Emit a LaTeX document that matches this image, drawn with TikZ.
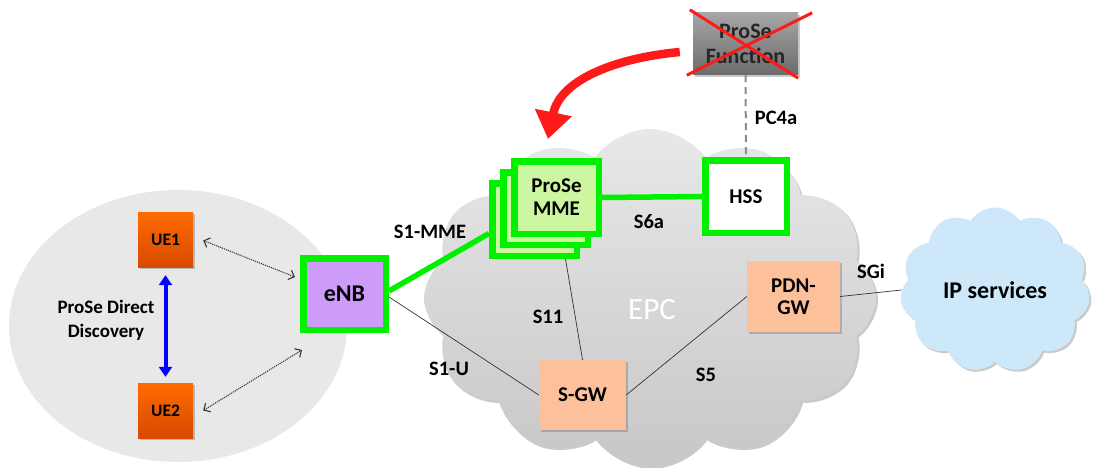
\documentclass[tikz,border=0pt]{standalone}
\usepackage{fontspec}
\setmainfont{Carlito}
\usetikzlibrary{shapes.symbols,arrows.meta,shadows,calc}
\definecolor{brightgreen}{HTML}{00F000}
\definecolor{uetop}{HTML}{FF6A00}
\definecolor{uebot}{HTML}{D84A00}
\definecolor{enbfill}{HTML}{CC9CF8}
\definecolor{mmefill}{HTML}{CCF7A0}
\definecolor{gwfill}{HTML}{FCC19A}
\definecolor{ipfill}{HTML}{CDE9F9}
\definecolor{xred}{HTML}{FF1A1A}
\begin{document}
\begin{tikzpicture}[x=1pt,y=-1pt,
  shad/.style={drop shadow={shadow xshift=2pt,shadow yshift=-2pt,opacity=0.35,fill=black!60}},
  uebox/.style={rectangle,top color=uetop,bottom color=uebot,minimum width=55pt,minimum height=55pt,
     font=\bfseries\fontsize{17.5}{19}\selectfont,inner sep=0pt,shad},
  greenbox/.style={rectangle,draw=brightgreen,line width=6.5pt,font=\bfseries\fontsize{21}{23}\selectfont,
     align=center,inner sep=0pt,shad},
  gwbox/.style={rectangle,fill=gwfill,font=\bfseries\fontsize{21}{22}\selectfont,align=center,inner sep=0pt,shad},
  lbl/.style={font=\bfseries\fontsize{20.5}{22}\selectfont},
  thinline/.style={draw=black!80,line width=0.7pt},
  greenline/.style={draw=brightgreen,line width=5.5pt},
  dotarrow/.style={draw=black!80,densely dotted,line width=1.1pt,{Straight Barb[length=5pt,width=10pt]}-{Straight Barb[length=5pt,width=10pt]}}
]
\useasboundingbox (0,0) rectangle (1094,468);

% background ellipse
\fill[black!9] (178,326) ellipse [x radius=169, y radius=136];

% EPC cloud
\node[cloud,cloud puffs=12,cloud puff arc=110,aspect=1.35,minimum width=452pt,minimum height=338pt,
      top color=black!9,bottom color=black!22,shad] (epc) at (650,298) {};
\node[text=white,font=\fontsize{31}{33}\selectfont] (epct) at (652,310) {EPC};

% IP services cloud
\node[cloud,cloud puffs=11,cloud puff arc=115,aspect=1.2,minimum width=190pt,minimum height=165pt,
      fill=ipfill,shad,font=\bfseries\fontsize{24}{26}\selectfont] (ip) at (995,290) {IP services};

% nodes
\node[uebox] (ue1) at (165.5,239.5) {UE1};
\node[uebox] (ue2) at (165.5,410.5) {UE2};
\node[greenbox,fill=enbfill,minimum width=82.5pt,minimum height=71.5pt,font=\bfseries\fontsize{24}{26}\selectfont] (enb) at (344.5,294) {eNB};

\node[greenbox,fill=mmefill,minimum width=84.5pt,minimum height=72.5pt] (mme3) at (534.5,219.5) {};
\draw[greenline] ($(enb.east)+(0,-3)$) -- ($(mme3.west)+(0,14)$);
\node[greenbox,fill=mmefill,minimum width=84.5pt,minimum height=72.5pt] (mme2) at (545.5,208.5) {};
\node[greenbox,fill=mmefill,minimum width=84.5pt,minimum height=72.5pt] (mme1) at (556.5,197.5) {ProSe\\MME};
\node[greenbox,fill=white,minimum width=81.5pt,minimum height=72.5pt] (hss) at (746,196.5) {HSS};

\node[gwbox,minimum width=87pt,minimum height=70pt] (sgw) at (582.5,395) {S-GW};
\node[gwbox,minimum width=93pt,minimum height=71pt] (pdn) at (793.5,296.5) {PDN-\\GW};

\node[rectangle,top color=black!35,bottom color=black!58,minimum width=105pt,minimum height=62pt,
      inner sep=0pt,align=center,text=black!85,font=\bfseries\fontsize{22}{25}\selectfont,shad] (pf) at (745.5,44) {ProSe\\Function};

% red cross
\draw[xred,line width=3pt] ($(pf.north west)+(-3,-3)$) -- ($(pf.south east)+(0,3)$);
\draw[xred,line width=3pt] ($(pf.north east)+(14,0)$) -- ($(pf.south west)+(-6,0)$);

% red curved arrow
\draw[xred,line width=8.5pt,-{Triangle[length=27pt,width=36pt]}] ($(pf.west)+(-13,8)$)
   .. controls (615,58) and (560,80) .. (548,139);

% connectors
\draw[greenline] (mme1.east) -- (hss.west);
\draw[draw=black!45,line width=2pt,dash pattern=on 7pt off 5pt] (pf.south) -- (hss.north);
\draw[thinline] ($(enb.east)+(0,3)$) -- (sgw.west);
\draw[thinline] ($(mme3.south)+(31,0)$) -- (sgw.north);
\draw[thinline] (sgw.east) -- (pdn.west);
\draw[thinline] (pdn.east) -- (ip.west);

\draw[dotarrow] ($(ue1.east)+(10,1)$) -- ($(enb.west)+(-5,-17)$);
\draw[dotarrow] ($(ue2.east)+(10,0)$) -- ($(enb.south west)+(2,17)$);
\draw[draw=blue,line width=4pt,{Triangle[length=10pt,width=13pt]}-{Triangle[length=10pt,width=13pt]}]
   ($(ue1.south)+(0,8)$) -- ($(ue2.north)+(0,-6)$);

% labels
\node[font=\bfseries\fontsize{19}{24}\selectfont,align=center] (pdd) at (106,320) {ProSe Direct\\Discovery};
\node[lbl] (l1) at (430,232) {S1-MME};
\node[lbl] (l2) at (649,222) {S6a};
\node[lbl] (l3) at (776,118) {PC4a};
\node[lbl] (l4) at (548,317) {S11};
\node[lbl] (l5) at (449,369) {S1-U};
\node[lbl] (l6) at (706,375) {S5};
\node[lbl] (l7) at (871,271) {SGi};
\end{tikzpicture}
\end{document}
